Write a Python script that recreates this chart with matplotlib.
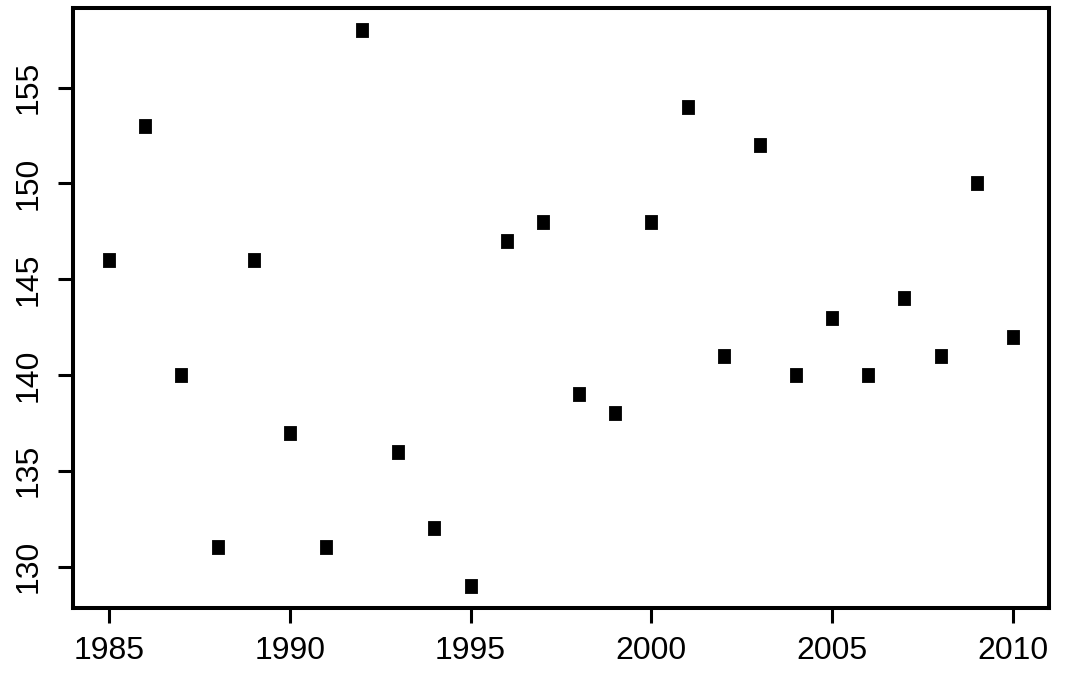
import matplotlib
matplotlib.use("Agg")
import matplotlib.pyplot as plt

plt.rcParams['font.family'] = ['Liberation Sans', 'DejaVu Sans']

# data
years = [1985, 1986, 1987, 1988, 1989, 1990, 1991, 1992, 1993, 1994, 1995, 1996, 1997,
         1998, 1999, 2000, 2001, 2002, 2003, 2004, 2005, 2006, 2007, 2008, 2009, 2010]
values = [146, 153, 140, 131, 146, 137, 131, 158, 136, 132, 129, 147, 148,
          139, 138, 148, 154, 141, 152, 140, 143, 140, 144, 141, 150, 142]
x_ticks = [1985, 1990, 1995, 2000, 2005, 2010]
y_ticks = [130, 135, 140, 145, 150, 155]

fig = plt.figure(figsize=(10.75, 6.73), dpi=100)
ax = fig.add_axes([0.0679, 0.0966, 0.9079, 0.8915])

# tall rectangular marker like the reference
rect = [(-0.38, -0.5), (0.38, -0.5), (0.38, 0.5), (-0.38, 0.5), (-0.38, -0.5)]
ax.plot(years, values, linestyle='none', marker=rect, markersize=10.5,
        color='black', markeredgewidth=0.6, markeredgecolor='black')

# R-style 4% padding
xr = max(years) - min(years)
yr = max(values) - min(values)
ax.set_xlim(min(years) - 0.04 * xr, max(years) + 0.04 * xr)
ax.set_ylim(min(values) - 0.04 * yr, max(values) + 0.04 * yr)

ax.set_xticks(x_ticks)
ax.set_yticks(y_ticks)
ax.set_yticklabels([str(v) for v in y_ticks], rotation=90, va='center')
ax.tick_params(axis='both', direction='out', length=10.5, width=2.2,
               labelsize=23, colors='black')
ax.tick_params(axis='x', pad=10)
ax.tick_params(axis='y', pad=11)

for s in ax.spines.values():
    s.set_linewidth(2.9)
    s.set_color('black')

fig.savefig('out.png', dpi=100)
